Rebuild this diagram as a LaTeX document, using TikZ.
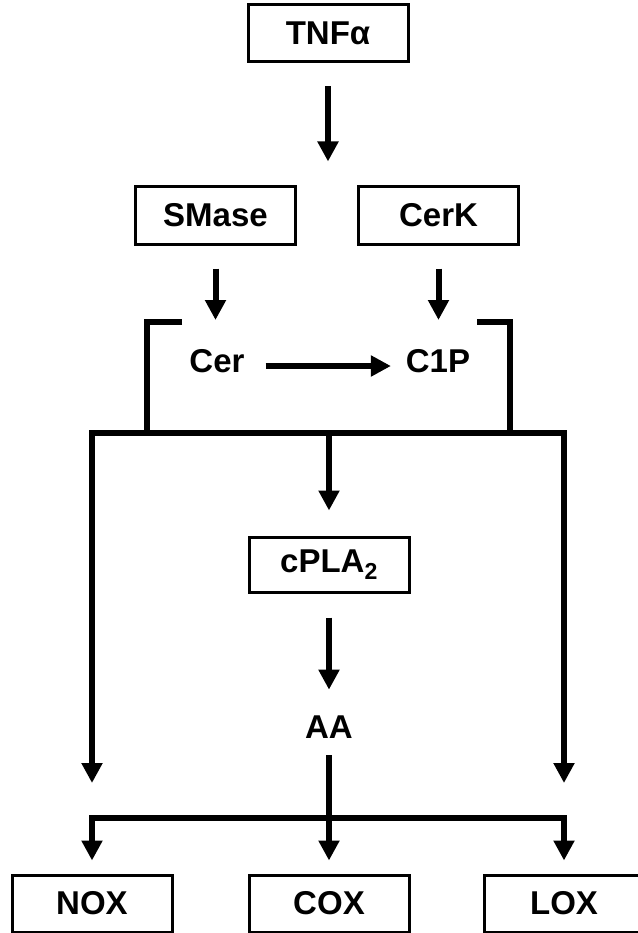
\documentclass[tikz,border=0pt]{standalone}
\usepackage{fontspec}
\setmainfont{Liberation Sans}
\usetikzlibrary{arrows.meta}

\tikzset{
  enzyme/.style={draw,line width=3pt,minimum width=160pt,minimum height=57pt,inner sep=0pt,font=\fontsize{33}{38}\selectfont\bfseries},
  lipid/.style={inner sep=0pt,font=\fontsize{33}{38}\selectfont\bfseries},
}

\begin{document}
\begin{tikzpicture}[line cap=butt,line join=miter,>={Triangle[width=20pt,length=20pt]},x=1pt,y=-1pt,line width=6pt]
\useasboundingbox (0,0) rectangle (637,933);
\node[enzyme] (tnf) at (328,33.5) {TNFα};
\node[enzyme] (smase) at (215.5,215.5) {SMase};
\node[enzyme] (cerk) at (438.5,215.5) {CerK};
\node[lipid] (cer) at (217,361) {Cer};
\node[lipid] (cip) at (438,361) {C1P};
\node[enzyme,minimum height=55pt] (cpla) at (329,564.5) {cPLA\textsubscript{2}};
\node[lipid] (aa) at (329,727) {AA};
\node[enzyme] (nox) at (92,903.5) {NOX};
\node[enzyme] (cox) at (329,903.5) {COX};
\node[enzyme] (lox) at (564,903.5) {LOX};
\coordinate (brl) at (182,322);
\coordinate (brr) at (477,322);
\coordinate (barl) at (92,433);
\coordinate (barr) at (564,433);
\coordinate (noxin) at (92,783);
\coordinate (loxin) at (564,783);
\coordinate (forkl) at (92,818);
\coordinate (forkr) at (564,818);
\draw[->,shorten <=23pt,shorten >=24pt] (tnf.south) -- (tnf.south |- smase.north);
\draw[->,shorten <=23pt,shorten >=2pt] (smase.south) -- (smase.south |- brl);
\draw[->,shorten <=23pt,shorten >=2pt] (cerk.south) -- (cerk.south |- brr);
\draw[->,shorten <=18pt,shorten >=12pt] ([yshift=-5pt]cer.east) -- ([yshift=-5pt]cer.east -| cip.west);
\draw (brl) -| (147,433);
\draw (brr) -| (510,433);
\draw[<->] (noxin) -- (barl) -- (barr) -- (loxin);
\draw[->,shorten >=25pt] (barl -| cpla.north) -- (cpla.north);
\draw[->,shorten <=24pt,shorten >=23pt] (cpla.south) -- (cpla.south |- aa.north);
\draw[->,shorten <=14pt,shorten >=13pt] (aa.south) -- (aa.south |- cox.north);
\draw[<->,shorten <=13pt,shorten >=13pt] (nox.north) -- (forkl) -- (forkr) -- (lox.north);
\end{tikzpicture}
\end{document}
